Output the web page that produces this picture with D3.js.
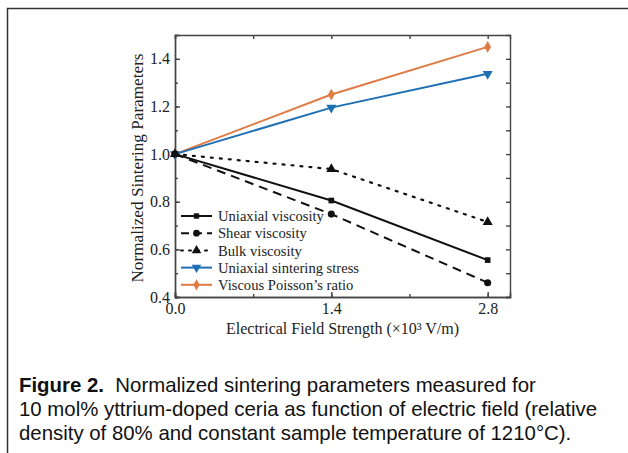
<!DOCTYPE html>
<html>
<head>
<meta charset="utf-8">
<script src="https://cdn.jsdelivr.net/npm/d3@7"></script>
<style>
  body { margin: 0; background: #fff; }
  .axis text { font-family: "Liberation Serif", "Times New Roman", serif; font-size: 16px; fill: #222; }
  .axis path, .axis line { stroke: #444; stroke-width: 1.4; }
  .lab { font-family: "Liberation Serif", "Times New Roman", serif; font-size: 16px; fill: #222; }
  .leg { font-family: "Liberation Serif", "Times New Roman", serif; font-size: 14.6px; fill: #222; }
  .cap { font-family: "Liberation Sans", Arial, sans-serif; font-size: 20.4px; fill: #111; }
</style>
</head>
<body>
<div class="chart"></div>
<script>
const fields = [ 0.0, 1.4, 2.8 ];
const uniaxialViscosity = [ 1.0, 0.805, 0.555 ];
const shearViscosity    = [ 1.0, 0.748, 0.46 ];
const bulkViscosity     = [ 1.0, 0.937, 0.715 ];
const sinteringStress   = [ 1.0, 1.195, 1.337 ];
const poissonRatio      = [ 1.0, 1.25, 1.45 ];
const seriesNames = [ "Uniaxial viscosity", "Shear viscosity", "Bulk viscosity",
  "Uniaxial sintering stress", "Viscous Poisson\u2019s ratio" ];
const xTicks = [ 0.0, 1.4, 2.8 ];
const yTicks = [ 0.4, 0.6, 0.8, 1.0, 1.2, 1.4 ];

const width = 628, height = 453;
const margin = { top: 35, right: 118, bottom: 156, left: 175 };

const svg = d3.select( ".chart" ).append( "svg" )
  .attr( "width", width ).attr( "height", height );

// outer frame
svg.append( "path" )
  .attr( "d", `M7.5,${ height } V8.5 H${ width }` )
  .attr( "fill", "none" ).attr( "stroke", "#333" ).attr( "stroke-width", 1.5 );

const g = svg.append( "g" ).attr( "transform", `translate(${ margin.left },${ margin.top })` );
const w = width - margin.left - margin.right;
const h = height - margin.top - margin.bottom;

const x = d3.scaleLinear().domain( [ 0, 3.0 ] ).range( [ 0, w ] );
const y = d3.scaleLinear().domain( [ 0.4, 1.5 ] ).range( [ h, 0 ] );

const minorX = d3.range( 0, 3.0, 0.7 );
const minorY = d3.range( 0.4, 1.5, 0.1 );

// inward ticks on all sides
g.append( "g" ).attr( "class", "axis" ).attr( "transform", `translate(0,${ h })` )
  .call( d3.axisBottom( x ).tickValues( xTicks ).tickSize( -5 ).tickPadding( 6 ).tickFormat( d3.format( ".1f" ) ) );
g.append( "g" ).attr( "class", "axis" ).attr( "transform", `translate(0,${ h })` )
  .call( d3.axisBottom( x ).tickValues( minorX ).tickSize( -3 ).tickFormat( "" ) );
g.append( "g" ).attr( "class", "axis" )
  .call( d3.axisTop( x ).tickValues( minorX ).tickSize( -4 ).tickFormat( "" ) );
g.append( "g" ).attr( "class", "axis" )
  .call( d3.axisLeft( y ).tickValues( yTicks ).tickSize( -5 ).tickPadding( 5 ).tickFormat( d3.format( ".1f" ) ) );
g.append( "g" ).attr( "class", "axis" )
  .call( d3.axisLeft( y ).tickValues( minorY ).tickSize( -3 ).tickFormat( "" ) );
g.append( "g" ).attr( "class", "axis" ).attr( "transform", `translate(${ w },0)` )
  .call( d3.axisRight( y ).tickValues( minorY ).tickSize( -4 ).tickFormat( "" ) );

g.append( "text" ).attr( "class", "lab" )
  .attr( "x", w / 2 ).attr( "y", h + 37 ).attr( "text-anchor", "middle" )
  .text( "Electrical Field Strength (\u00d710\u00b3 V/m)" );
g.append( "text" ).attr( "class", "lab" ).style( "font-size", "17.2px" )
  .attr( "transform", `translate(-32,${ h / 2 + 2 }) rotate(-90)` ).attr( "text-anchor", "middle" )
  .text( "Normalized Sintering Parameters" );

const series = [
  { name: seriesNames[ 0 ], values: uniaxialViscosity, color: "#111", dash: null, sym: d3.symbolSquare, size: 32 },
  { name: seriesNames[ 1 ], values: shearViscosity, color: "#111", dash: "9,6", sym: d3.symbolCircle, size: 40 },
  { name: seriesNames[ 2 ], values: bulkViscosity, color: "#111", dash: "2,7", sym: d3.symbolTriangle, size: 44 },
  { name: seriesNames[ 3 ], values: sinteringStress, color: "#1f6fb4", dash: null, sym: d3.symbolTriangle, size: 44, flip: true },
  { name: seriesNames[ 4 ], values: poissonRatio, color: "#e07b45", dash: null, sym: d3.symbolDiamond, size: 40 }
];

const line = d3.line().x( d => x( d[ 0 ] ) ).y( d => y( d[ 1 ] ) );

series.slice().reverse().forEach( s => {
  const pts = fields.map( ( f, i ) => [ f, s.values[ i ] ] );
  g.append( "path" ).attr( "d", line( pts ) )
    .attr( "fill", "none" ).attr( "stroke", s.color ).attr( "stroke-width", s.dash === "2,7" ? 2.2 : 2 )
    .attr( "stroke-dasharray", s.dash ).attr( "stroke-linecap", s.dash === "2,7" ? "round" : "butt" );
  g.selectAll( null ).data( pts ).enter().append( "path" )
    .attr( "d", d3.symbol( s.sym, s.size ) )
    .attr( "transform", d => `translate(${ x( d[ 0 ] ) },${ y( d[ 1 ] ) })${ s.flip ? " rotate(180)" : "" }` )
    .attr( "fill", s.color );
} );

// legend
const leg = g.append( "g" ).attr( "transform", "translate(6,181)" );
series.forEach( ( s, i ) => {
  const row = leg.append( "g" ).attr( "transform", `translate(0,${ i * 17.2 })` );
  row.append( "line" ).attr( "x1", 0 ).attr( "x2", 31 )
    .attr( "stroke", s.color ).attr( "stroke-width", 2 )
    .attr( "stroke-dasharray", s.dash === "9,6" ? "8,5" : s.dash === "2,7" ? "2,6" : null )
    .attr( "stroke-linecap", s.dash === "2,7" ? "round" : "butt" );
  row.append( "path" ).attr( "d", d3.symbol( s.sym, s.size * 0.9 ) )
    .attr( "transform", `translate(15.5,0)${ s.flip ? " rotate(180)" : "" }` ).attr( "fill", s.color );
  row.append( "text" ).attr( "class", "leg" ).attr( "x", 37 ).attr( "dy", "0.35em" ).text( s.name );
} );

// caption
const cap = svg.append( "text" ).attr( "class", "cap" );
cap.append( "tspan" ).attr( "x", 19 ).attr( "y", 392 ).attr( "font-weight", "bold" ).text( "Figure 2." );
cap.append( "tspan" ).text( "\u00a0 Normalized sintering parameters measured for" );
svg.append( "text" ).attr( "class", "cap" ).attr( "x", 19 ).attr( "y", 416 )
  .text( "10 mol% yttrium-doped ceria as function of electric field (relative" );
svg.append( "text" ).attr( "class", "cap" ).attr( "x", 19 ).attr( "y", 440 )
  .text( "density of 80% and constant sample temperature of 1210\u00b0C)." );
</script>
</body>
</html>
